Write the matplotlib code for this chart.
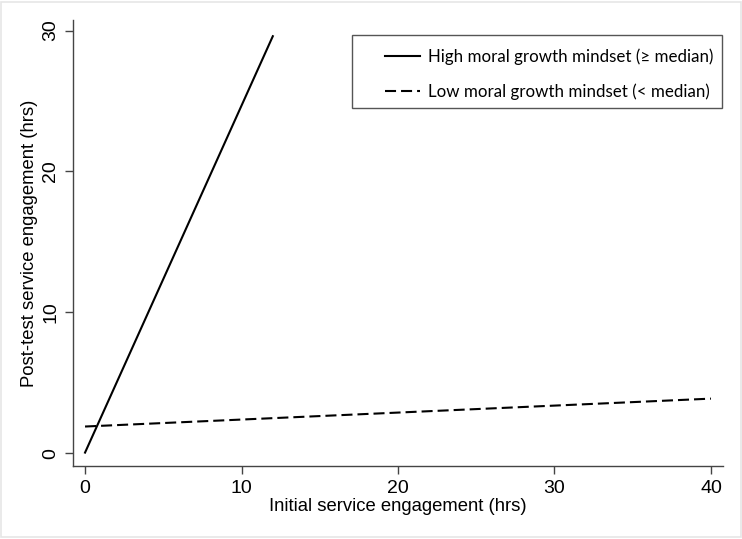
import matplotlib
matplotlib.use("Agg")
import matplotlib.pyplot as plt
from matplotlib.patches import Rectangle

# Data
high_x = [0, 12]
high_y = [0.05, 29.6]
low_x = [0, 40]
low_y = [1.9, 3.88]
x_ticks = [0, 10, 20, 30, 40]
y_ticks = [0, 10, 20, 30]
high_label = "High moral growth mindset (\u2265 median)"
low_label = "Low moral growth mindset (< median)"
x_label = "Initial service engagement (hrs)"
y_label = "Post-test service engagement (hrs)"

plt.rcParams['font.family'] = ['Liberation Sans', 'DejaVu Sans']

W, H = 742, 539
fig = plt.figure(figsize=(W / 100, H / 100), dpi=100)
fig.patches.append(Rectangle((0.002, 0.003), 0.996, 0.994, transform=fig.transFigure,
                             fill=False, edgecolor='#e6e6e6', linewidth=1.2))
ax = fig.add_axes([73.3 / W, 1 - 465.7 / H, (722.7 - 73.3) / W, (465.7 - 20) / H])

dash = (0, (5.3, 2.4))
ax.plot(high_x, high_y, color='black', linewidth=1.5, label=high_label)
ax.plot(low_x, low_y, color='black', linewidth=1.5, linestyle=dash, label=low_label)

ax.set_xlim(-0.75, 40.75)
ax.set_ylim(-0.88, 30.75)
ax.set_xticks(x_ticks)
ax.set_yticks(y_ticks)
ax.tick_params(axis='both', length=6, width=1, color='#444444', labelsize=14, pad=4)
for lbl in ax.get_yticklabels():
    lbl.set_rotation(90)
    lbl.set_va('center')
for s in ['top', 'right']:
    ax.spines[s].set_visible(False)
for s in ['left', 'bottom']:
    ax.spines[s].set_color('#444444')
    ax.spines[s].set_linewidth(1)

ax.set_xlabel(x_label, fontsize=13.3, labelpad=1)
ax.set_ylabel(y_label, fontsize=13.3, labelpad=3)

# legend box drawn in figure pixel coordinates
fig.patches.append(Rectangle((351.7 / W, 1 - 108.3 / H), (721.7 - 351.7) / W, (108.3 - 35) / H,
                             transform=fig.transFigure, fill=False, edgecolor='#555555',
                             linewidth=1))
leg = ax.legend(loc='upper left', bbox_to_anchor=(376.5 / W, 1 - 39.5 / H),
                bbox_transform=fig.transFigure, frameon=False,
                prop={'family': 'Lato', 'size': 12.2},
                handlelength=2.07, labelspacing=1.14, borderpad=0.5, handletextpad=0.47,
                borderaxespad=0)

fig.savefig('out.png', dpi=100)
